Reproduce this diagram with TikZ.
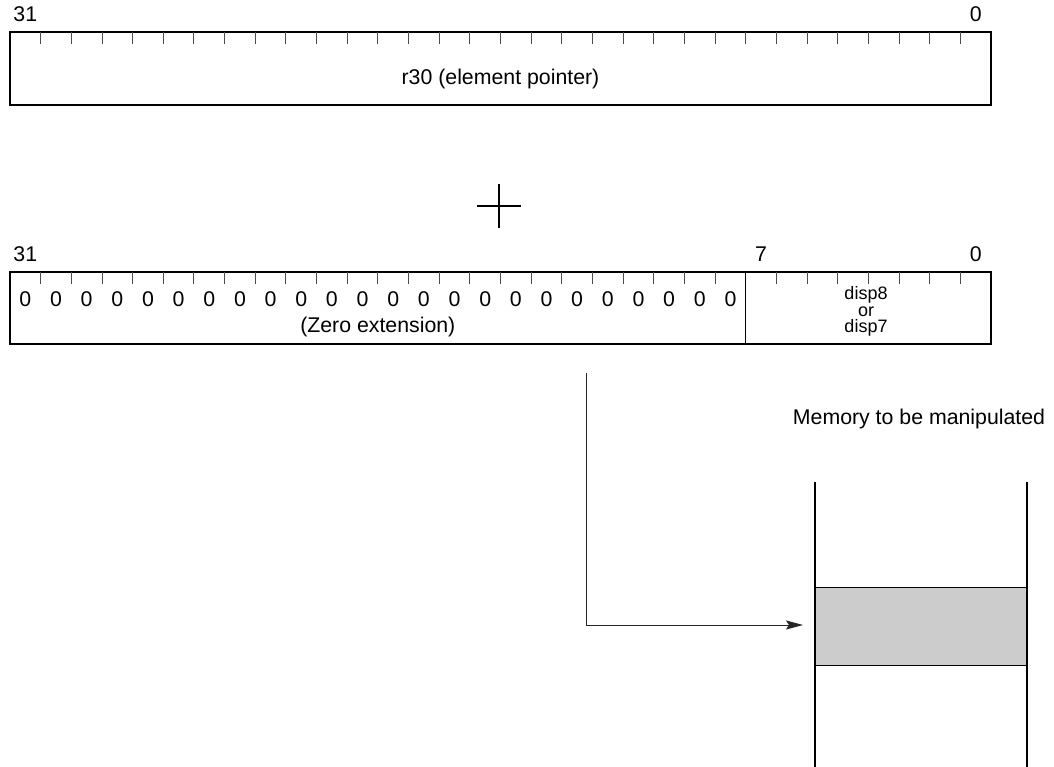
\documentclass[tikz,border=0pt]{standalone}
\usepackage{fontspec}
\setmainfont{Liberation Sans}
\usetikzlibrary{arrows.meta}
\definecolor{cellgray}{HTML}{CCCCCC}
\begin{document}
\begin{tikzpicture}[x=1pt,y=-1pt,
  lbl/.style={font=\fontsize{21.3}{25}\selectfont, anchor=base, inner sep=0pt, outer sep=0pt},
  small/.style={font=\fontsize{18}{16.5}\selectfont, align=center, inner sep=0pt},
  regbox/.style={draw=black, line width=1.8pt, inner sep=0pt, outer sep=0pt, anchor=north west},
  tickline/.style={draw=black!70, line width=0.9pt},
  divline/.style={draw=black, line width=0.9pt},
  conn/.style={draw=black!85, line width=0.9pt},
  memwall/.style={draw=black, line width=1.9pt},
  plusline/.style={draw=black, line width=1.9pt}
]
\useasboundingbox (0,0) rectangle (1054,767);

% ---------- register r30 ----------
\node[regbox, minimum width=981pt, minimum height=73pt] (r30) at (10,32) {};
\foreach \k in {1,...,31}{
  \draw[tickline] ({10+30.656*\k},32) -- ({10+30.656*\k},44);
}
\node[lbl] (r30hi) at (25.3,21.5) {31};
\node[lbl] (r30lo) at (975.7,21.5) {0};
\node[lbl] (r30txt) at (500.5,85) {r30 (element pointer)};

% ---------- plus ----------
\coordinate (pc) at (499,206);
\draw[plusline] ([xshift=-22pt]pc) -- ([xshift=22pt]pc);
\draw[plusline] ([yshift=-22pt]pc) -- ([yshift=22pt]pc);

% ---------- displacement register ----------
\node[regbox, minimum width=981pt, minimum height=72pt] (dsp) at (10,272) {};
\coordinate (divtop) at (745.7,272);
\coordinate (divbot) at (745.7,344);
\draw[divline] (divtop) -- (divbot);
\foreach \k in {1,...,23,25,26,...,31}{
  \draw[tickline] ({10+30.656*\k},272) -- ({10+30.656*\k},284);
}
\foreach \k in {0,...,23}{
  \node[lbl] (z\k) at ({10+30.656*(\k+0.5)},306) {0};
}
\node[lbl] (dsphi) at (25.3,261.5) {31};
\node[lbl] (dsp7) at (761,261.5) {7};
\node[lbl] (dsplo) at (975.7,261.5) {0};
\node[lbl] (zext) at (377.8,332) {(Zero extension)};
\node[small] (disp) at (866,311.5) {disp8\\or\\disp7};

% ---------- memory ----------
\node[lbl] (memlbl) at (919,424.5) {Memory to be manipulated};
\coordinate (mlt) at (815,482);
\coordinate (mlb) at (815,767);
\coordinate (mrt) at (1027,482);
\coordinate (mrb) at (1027,767);
\node[draw=black, line width=0.8pt, fill=cellgray, inner sep=0pt, outer sep=0pt,
      minimum width=212pt, minimum height=78pt, anchor=north west] (cell) at (815,587) {};
\draw[memwall] (mlt) -- (mlb);
\draw[memwall] (mrt) -- (mrb);

% ---------- connector ----------
\coordinate (src) at (586.5,373);
\coordinate (tip) at (803,625);
\draw[conn, -{Stealth[length=17pt,width=9pt,inset=3pt]}] (src) |- (tip);
\end{tikzpicture}
\end{document}
